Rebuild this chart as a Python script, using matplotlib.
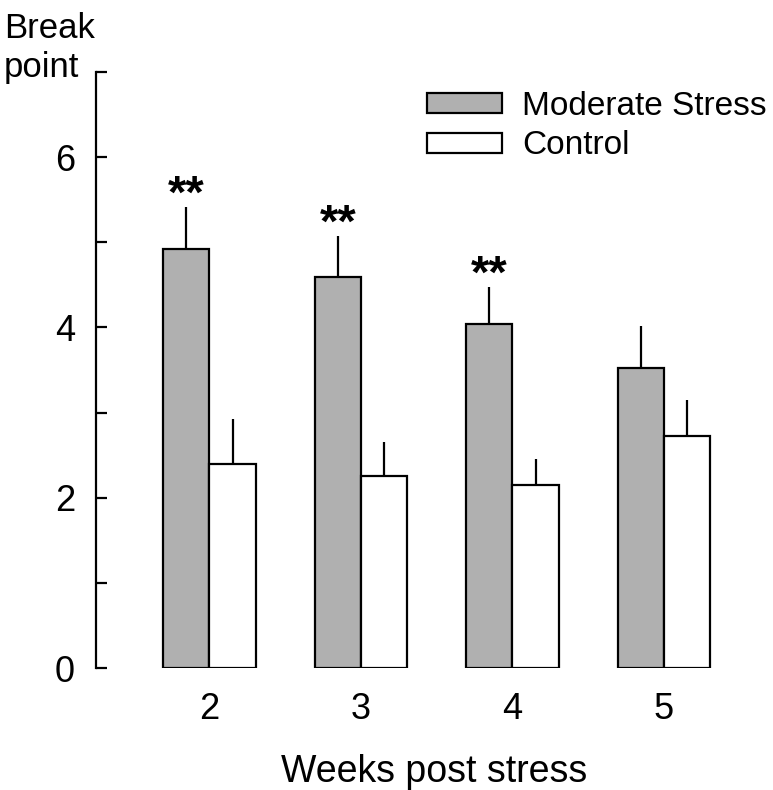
import numpy as np
import matplotlib.pyplot as plt

plt.rcParams['font.family'] = ['Liberation Sans', 'DejaVu Sans']

weeks = [2, 3, 4, 5]
stress_mean = [4.92, 4.59, 4.04, 3.52]
stress_err = [0.50, 0.48, 0.44, 0.50]
control_mean = [2.40, 2.26, 2.15, 2.73]
control_err = [0.52, 0.39, 0.31, 0.42]
stars = ['**', '**', '**', '']

x = np.array(weeks, dtype=float)
w = 0.305

fig = plt.figure(figsize=(7.73, 7.9), dpi=100)
ax = fig.add_axes([0.124, 0.1544, 0.876, 0.7545])

ax.bar(x - w / 2, stress_mean, w, color='#b0b0b0', edgecolor='black', linewidth=1.6,
       label='Moderate Stress', zorder=2)
ax.bar(x + w / 2, control_mean, w, color='white', edgecolor='black', linewidth=1.6,
       label='Control', zorder=2)
ax.errorbar(x - w / 2, stress_mean, yerr=[np.zeros(4), stress_err], fmt='none',
            ecolor='black', elinewidth=1.6, capsize=0, zorder=1)
ax.errorbar(x + w / 2, control_mean, yerr=[np.zeros(4), control_err], fmt='none',
            ecolor='black', elinewidth=1.6, capsize=0, zorder=1)

for xi, m, e, s in zip(x, stress_mean, stress_err, stars):
    if s:
        ax.text(xi - w / 2, m + e - 0.01, s, ha='center', va='baseline', fontsize=34,
                fontweight='bold')

ax.set_xlim(1.25, 5.72)
ax.set_ylim(0, 7)
ax.set_yticks([0, 1, 2, 3, 4, 5, 6, 7])
ax.set_yticklabels(['0', '', '2', '', '4', '', '6', ''])
ax.set_xticks(x)
ax.set_xticklabels([str(v) for v in weeks])

for side in ['top', 'right', 'bottom']:
    ax.spines[side].set_visible(False)
ax.spines['left'].set_linewidth(1.6)
ax.tick_params(axis='y', direction='in', length=8, width=1.6, labelsize=26, pad=15)
ax.tick_params(axis='x', length=0, labelsize=26, pad=17)

ax.set_xlabel('Weeks post stress', fontsize=27, labelpad=20)
fig.text(4 / 773, 1 - 12 / 790, 'Break\npoint', ha='left', va='top', fontsize=25,
         linespacing=1.25)

ax.legend(loc='upper left', bbox_to_anchor=(0.489, 0.968), frameon=False, fontsize=24,
          handlelength=2.25, handleheight=0.55, handletextpad=0.6, labelspacing=0.25,
          borderpad=0, borderaxespad=0)

fig.savefig('out.png', dpi=100)
